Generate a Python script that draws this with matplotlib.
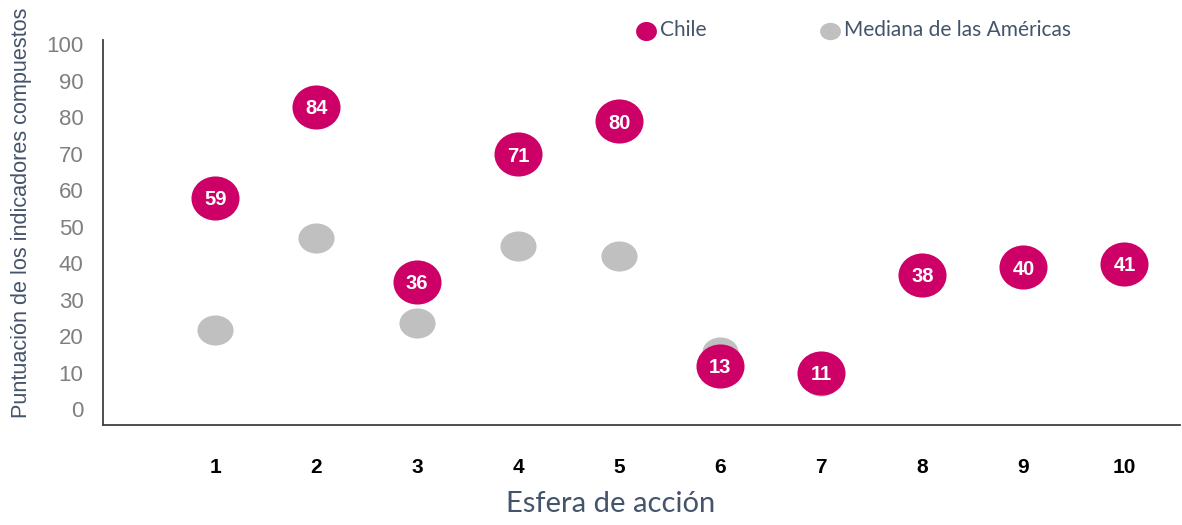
import matplotlib
matplotlib.use('Agg')
from matplotlib import pyplot as plt
from matplotlib.path import Path
from matplotlib.transforms import Affine2D, ScaledTranslation
import numpy as np

# data
esferas = [1, 2, 3, 4, 5, 6, 7, 8, 9, 10]
chile = [59, 84, 36, 71, 80, 13, 11, 38, 40, 41]
mediana = [22.8, 47.9, 24.6, 45.9, 43.1, 16.7, 8.8, 38, 40, 39.2]

magenta = '#cc0066'
gris = '#c0c0c0'
texto = '#44546a'

# markers are slightly wider than tall in the reference
elipse_gris = Path.unit_circle().transformed(Affine2D().scale(1.2, 1.0))
elipse_chile = Path.unit_circle().transformed(Affine2D().scale(1.09, 1.0))

fig = plt.figure(figsize=(11.82, 5.25), dpi=100)
ax = fig.add_axes([103 / 1182, 1 - 425 / 525, (1180 - 103) / 1182, 385 / 525])

ax.scatter(esferas, mediana, s=26 ** 2, marker=elipse_gris, color=gris,
           linewidths=0, zorder=2, label='Mediana de las Américas')
ax.scatter(esferas, chile, s=34.6 ** 2, marker=elipse_chile, color=magenta,
           linewidths=0, zorder=3, label='Chile')

for x, v in zip(esferas, chile):
    ax.text(x, v, str(v), color='white', fontsize=14.5, fontweight='bold',
            family='Liberation Sans', ha='center', va='center_baseline', zorder=4)

ax.set_xlim(-0.11, 10.55)
ax.set_ylim(-3.26, 102.3)
ax.set_xticks(esferas)
ax.set_xticklabels([str(e) for e in esferas], fontsize=15, fontweight='bold',
                   family='Liberation Sans', color='black')
ax.set_yticks(range(0, 101, 10))
ax.set_yticklabels([str(t) for t in range(0, 101, 10)], fontsize=16,
                   family='Liberation Sans', color='#7f7f7f')
ax.tick_params(axis='x', length=0, pad=24)
ax.tick_params(axis='y', length=0, pad=14)
# tick labels sit a few pixels above the data grid in the reference
for lab in ax.get_yticklabels():
    lab.set_transform(lab.get_transform() + ScaledTranslation(0, 0.04, fig.dpi_scale_trans))

for s in ['top', 'right']:
    ax.spines[s].set_visible(False)
for s in ['left', 'bottom']:
    ax.spines[s].set_color('#404040')
    ax.spines[s].set_linewidth(1.3)

ax.set_xlabel('Esfera de acción', fontsize=21, family='Lato', color=texto)
ax.xaxis.set_label_coords(0.471, -0.172)
fig.text(22 / 1182, 1 - 213 / 525, 'Puntuación de los indicadores compuestos',
         rotation=90, fontsize=15.6, family='Liberation Sans', color=texto,
         ha='center', va='center')

h, l = ax.get_legend_handles_labels()
leg = fig.legend(h[::-1], l[::-1], loc='center left', ncol=2,
                 bbox_to_anchor=(614 / 1182, 1 - 30 / 525), frameon=False,
                 handletextpad=0.0, columnspacing=5.3, handlelength=1.3,
                 prop={'family': 'Lato', 'size': 15})
for hd in leg.legend_handles:
    hd.set_sizes([15 ** 2])
for t in leg.get_texts():
    t.set_color(texto)

fig.savefig('out.png', dpi=100)
